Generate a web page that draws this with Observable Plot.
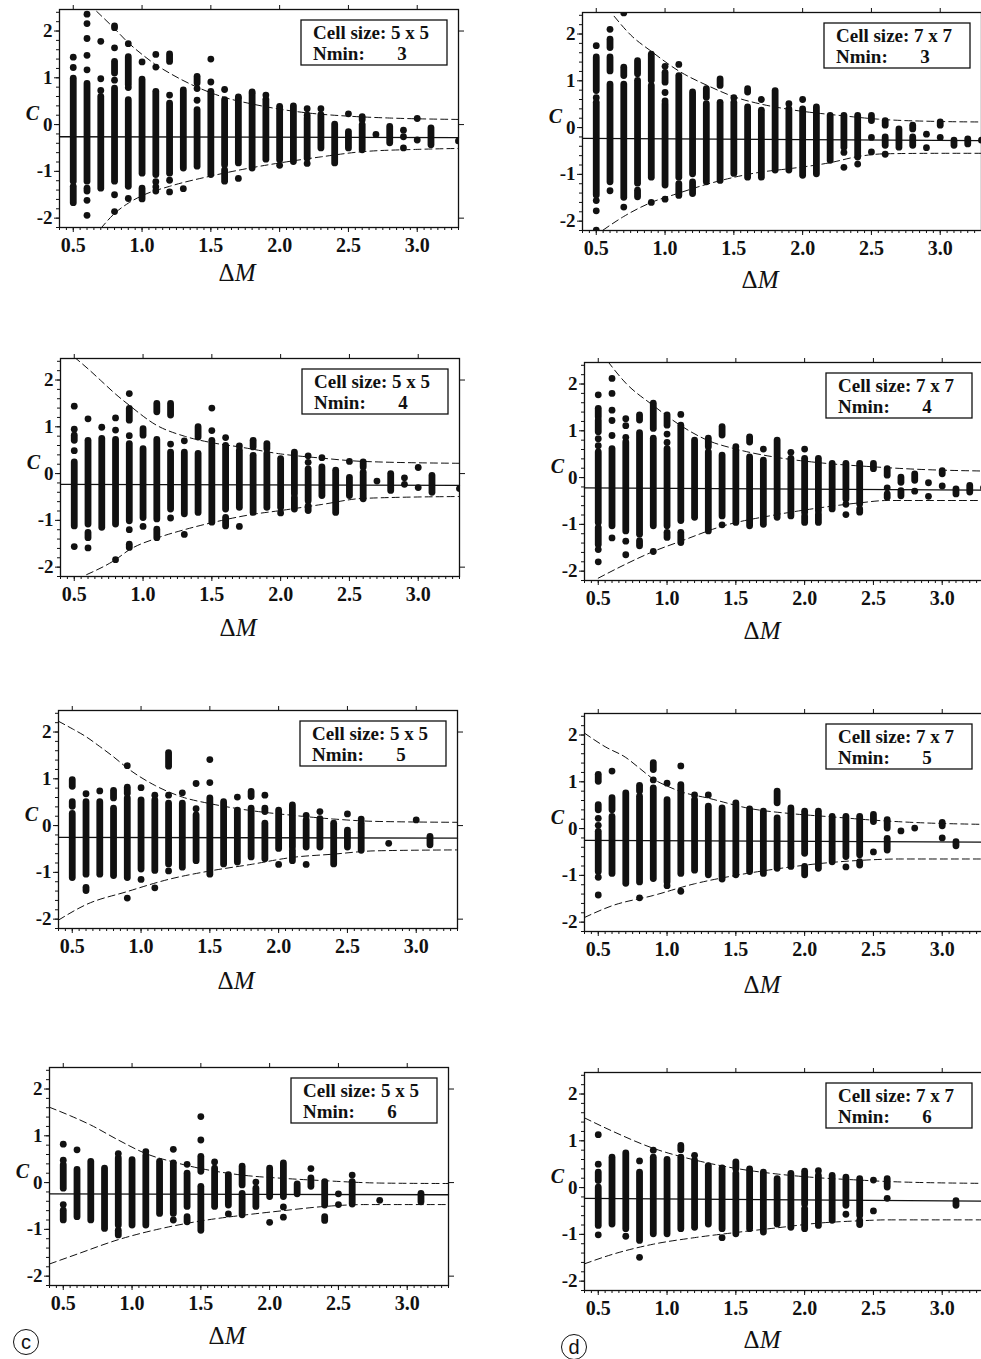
<!DOCTYPE html>
<html><head><meta charset="utf-8">
<script src="https://cdn.jsdelivr.net/npm/d3@7"></script>
<script src="https://cdn.jsdelivr.net/npm/@observablehq/plot@0.6"></script>
<style>
html,body{margin:0;padding:0;background:#fff;overflow:hidden;}
#page{position:relative;width:981px;height:1359px;overflow:hidden;background:#fff;}
.panel{position:absolute;}
</style></head><body><div id="page"></div>
<script>
// ---------- tick labels ----------
const xTicks = [0.5, 1.0, 1.5, 2.0, 2.5, 3.0];
const xTickLabels = ["0.5", "1.0", "1.5", "2.0", "2.5", "3.0"];
const yTicks = [-2, -1, 0, 1, 2];
const yTickLabels = ["-2", "-1", "0", "1", "2"];
const rightTicks = [-2, 0, 2];

// ---------- legend values ----------
const cellSizes = ["5 x 5", "7 x 7", "5 x 5", "7 x 7", "5 x 5", "7 x 7", "5 x 5", "7 x 7"];
const nmins = ["3", "3", "4", "4", "5", "5", "6", "6"];
const panelTags = [null, null, null, null, null, null, "c", "d"];

// ---------- panel 1 (5x5, Nmin 3) ----------
const p1Segs = [[0.5,-1.22,0.98],[0.5,-1.68,-1.33],[0.6,-1.22,0.87],[0.6,-1.43,-1.37],[0.7,-1.37,0.59],
  [0.8,2.06,2.1],[0.8,1.09,1.34],[0.8,-1.22,0.77],[0.9,0.84,1.44],[0.9,-1.33,0.52],[1.0,-1.05,0.96],[1.0,-1.6,-1.37],
  [1.1,-1.08,0.7],[1.2,1.34,1.5],[1.2,-1.05,0.45],[1.3,-0.94,0.73],[1.4,0.88,1.02],[1.4,-0.9,0.31],[1.5,-1.08,0.7],
  [1.6,-0.87,0.52],[1.6,-1.22,-0.98],[1.7,-0.83,0.55],[1.8,-0.94,0.66],[1.9,-0.75,0.53],[2.0,-0.76,0.38],[2.1,-0.8,0.39],
  [2.2,-0.73,0.13],[2.3,-0.51,0.2],[2.4,-0.83,0],[2.5,-0.51,-0.16],[2.6,0.09,0.16],[2.6,-0.55,-0.01],[2.8,-0.4,-0.05],[3.1,-0.44,-0.08]];
const p1Dots = [[0.5,1.44],[0.5,1.22],[0.6,2.36],[0.6,2.16],[0.6,1.84],[0.6,1.48],[0.6,1.17],[0.6,-1.62],[0.6,-1.94],
  [0.7,1.78],[0.7,0.98],[0.7,0.73],[0.8,1.64],[0.8,0.95],[0.8,-1.5],[0.8,-1.86],[0.9,1.73],[0.9,0.79],[0.9,-1.58],[1.0,1.34],
  [1.1,1.5],[1.1,1.23],[1.1,-1.22],[1.1,-1.33],[1.1,-1.42],[1.2,0.63],[1.2,-1.19],[1.2,-1.44],[1.3,-1.37],[1.4,0.77],[1.4,0.52],
  [1.5,1.4],[1.5,0.91],[1.6,0.75],[1.7,0.59],[1.7,-1.15],[1.8,0.7],[1.9,0.63],[2.0,-0.87],[2.2,0.34],[2.2,0.2],[2.2,-0.83],
  [2.3,0.34],[2.5,0.23],[2.7,-0.21],[2.9,-0.12],[2.9,-0.26],[2.9,-0.5],[3.0,0.13],[3.0,-0.33],[3.3,-0.35]];
const p1Mean = [[0.4,-0.26],[3.3,-0.28]];
const p1Upper = [[0.67,2.42],[0.8,2.05],[0.9,1.75],[1.0,1.5],[1.1,1.28],[1.2,1.1],[1.4,0.8],[1.6,0.58],[1.8,0.44],[2.0,0.33],[2.2,0.25],[2.5,0.18],[2.8,0.14],[3.3,0.11]];
const p1Lower = [[0.7,-2.22],[0.8,-1.9],[0.9,-1.68],[1.0,-1.52],[1.2,-1.32],[1.5,-1.1],[1.8,-0.92],[2.0,-0.82],[2.3,-0.69],[2.6,-0.58],[3.0,-0.53],[3.3,-0.51]];

// ---------- panel 2 (7x7, Nmin 3) ----------
const p2Segs = [[0.5,0.78,1.5],[0.5,-1.45,0.53],[0.6,1.7,1.88],[0.6,1.2,1.5],[0.6,-1.17,0.92],[0.7,1.1,1.28],[0.7,-1.5,0.92],
  [0.8,1.14,1.42],[0.8,-1.2,1.0],[0.8,-1.49,-1.35],[0.9,1.0,1.56],[0.9,-1.07,0.89],[1.0,0.96,1.17],[1.0,-1.24,0.5],
  [1.1,-1.07,1.1],[1.1,-1.46,-1.21],[1.2,-1.0,0.75],[1.2,-1.42,-1.17],[1.3,0.64,0.82],[1.3,-1.17,0.5],[1.4,0.89,1.03],[1.4,-1.14,0.53],
  [1.5,-0.99,0.53],[1.6,0.75,0.82],[1.6,-1.07,0.43],[1.7,-1.07,0.36],[1.8,-0.92,0.78],[1.9,-0.92,0.39],[2.0,-1.03,0.39],
  [2.1,-1.0,0.43],[2.2,-0.71,0.25],[2.3,-0.43,0.25],[2.4,-0.64,0.25],[2.5,0.14,0.25],[2.6,0.04,0.14],[2.6,-0.39,-0.21],
  [2.7,-0.43,-0.04],[2.8,-0.04,0.04],[2.8,-0.39,-0.21],[3.0,0.04,0.11],[3.1,-0.39,-0.28],[3.2,-0.36,-0.25]];
const p2Dots = [[0.5,1.75],[0.5,0.64],[0.5,-1.56],[0.5,-1.78],[0.5,-2.19],[0.6,2.1],[0.6,-1.35],[0.7,2.45],[0.7,-1.7],[0.9,-1.6],
  [1.0,1.31],[1.0,0.75],[1.0,0.57],[1.0,-1.53],[1.1,1.35],[1.5,0.64],[1.7,0.6],[1.9,0.51],[2.0,0.6],[2.3,-0.53],[2.3,-0.85],
  [2.4,-0.78],[2.5,-0.21],[2.5,-0.52],[2.6,-0.57],[2.9,-0.14],[2.9,-0.43],[3.0,-0.21],[3.3,-0.27]];
const p2Mean = [[0.4,-0.23],[3.3,-0.28]];
const p2Upper = [[0.63,2.38],[0.75,1.98],[0.9,1.63],[1.1,1.21],[1.33,0.87],[1.5,0.66],[1.7,0.5],[1.9,0.39],[2.3,0.25],[2.55,0.18],[3.0,0.13],[3.3,0.12]];
const p2Lower = [[0.55,-2.19],[0.7,-1.9],[0.9,-1.6],[1.08,-1.42],[1.33,-1.19],[1.7,-0.95],[1.9,-0.88],[2.2,-0.75],[2.4,-0.62],[2.6,-0.56],[3.0,-0.55],[3.3,-0.55]];

// ---------- panel 3 (5x5, Nmin 4) ----------
const p3Segs = [[0.5,0.7,0.81],[0.5,-1.13,0.24],[0.6,-1.09,0.7],[0.6,-1.38,-1.27],[0.7,-1.16,0.74],[0.8,-1.09,0.72],
  [0.9,1.13,1.38],[0.9,-1.02,0.63],[0.9,-1.59,-1.52],[1.0,0.81,0.95],[1.0,-0.95,0.52],[1.1,1.31,1.49],[1.1,-0.98,0.72],[1.1,-1.38,-1.2],
  [1.2,1.24,1.49],[1.2,-0.77,0.45],[1.3,-0.87,0.45],[1.4,0.77,0.99],[1.4,-0.84,0.42],[1.5,-1.05,0.7],[1.6,-0.77,0.59],[1.6,-1.13,-0.95],
  [1.7,-0.73,0.49],[1.8,0.56,0.7],[1.8,-0.84,0.38],[1.9,0.52,0.63],[1.9,-0.73,0.42],[2.0,-0.73,0.31],[2.1,-0.44,0.45],[2.1,-0.77,-0.52],
  [2.2,-0.59,0.09],[2.2,-0.8,-0.7],[2.3,-0.48,0.13],[2.4,-0.84,0.06],[2.5,-0.48,-0.09],[2.6,0.13,0.24],[2.6,-0.55,0.02],
  [2.8,-0.37,-0.01],[3.1,-0.41,-0.05]];
const p3Dots = [[0.5,1.44],[0.5,0.95],[0.5,0.49],[0.5,-1.56],[0.6,1.17],[0.6,-1.59],[0.7,0.99],[0.8,1.19],[0.8,0.93],[0.8,-1.84],
  [0.9,1.71],[0.9,0.81],[0.9,-1.2],[1.0,-1.13],[1.2,0.63],[1.2,-0.95],[1.3,0.7],[1.3,-1.3],[1.5,1.4],[1.5,0.92],[1.6,0.77],
  [1.7,0.59],[1.7,-1.13],[2.0,-0.84],[2.2,0.38],[2.2,0.24],[2.3,0.34],[2.5,0.26],[2.7,-0.16],[2.9,-0.09],[2.9,-0.23],
  [3.0,0.13],[3.0,-0.3],[3.3,-0.32]];
const p3Mean = [[0.4,-0.23],[3.3,-0.25]];
const p3Upper = [[0.5,2.49],[0.6,2.24],[0.7,1.97],[0.8,1.7],[0.9,1.46],[1.1,1.03],[1.3,0.8],[1.5,0.66],[1.7,0.57],[2.0,0.42],[2.3,0.33],[2.6,0.26],[3.3,0.22]];
const p3Lower = [[0.59,-2.16],[0.8,-1.84],[0.9,-1.63],[1.1,-1.38],[1.3,-1.2],[1.5,-1.05],[1.8,-0.87],[2.0,-0.79],[2.3,-0.66],[2.6,-0.53],[3.3,-0.49]];

// ---------- panel 4 (7x7, Nmin 4) ----------
const p4Segs = [[0.5,1.29,1.47],[0.5,0.97,1.22],[0.5,-0.97,0.54],[0.5,-1.44,-1.08],[0.6,-1.04,0.61],[0.7,-1.15,0.75],
  [0.8,1.22,1.33],[0.8,-1.22,0.95],[0.8,-1.47,-1.36],[0.9,1.04,1.58],[0.9,-1.04,0.83],[1.0,1.11,1.33],[1.0,-1.04,0.61],[1.0,-1.29,-1.18],
  [1.1,-0.93,1.11],[1.1,-1.4,-1.18],[1.2,-0.86,0.79],[1.3,0.65,0.83],[1.3,-1.15,0.54],[1.4,0.9,1.08],[1.4,-0.83,0.47],
  [1.5,-0.97,0.57],[1.6,0.75,0.86],[1.6,-1.04,0.43],[1.7,-1.01,0.36],[1.8,-0.86,0.79],[1.9,-0.83,0.4],[2.0,-0.75,0.4],[2.0,-0.97,-0.83],
  [2.1,-0.72,0.4],[2.1,-0.97,-0.79],[2.2,-0.68,0.29],[2.3,-0.47,0.29],[2.4,-0.57,0.29],[2.4,-0.75,-0.68],[2.5,0.18,0.29],
  [2.6,0.04,0.18],[2.6,-0.43,-0.36],[2.7,-0.11,0],[2.7,-0.4,-0.29],[2.8,-0.07,0.07],[3.0,0.07,0.14],[3.1,-0.36,-0.25],[3.2,-0.32,-0.18]];
const p4Dots = [[0.5,1.77],[0.5,0.83],[0.5,0.68],[0.5,-1.54],[0.5,-1.8],[0.6,2.12],[0.6,1.8],[0.6,1.44],[0.6,1.22],[0.6,0.9],[0.6,-1.29],
  [0.7,1.26],[0.7,1.11],[0.7,0.86],[0.7,-1.36],[0.7,-1.65],[0.9,-1.58],[1.0,0.93],[1.0,0.75],[1.1,1.35],[1.4,-1.01],[1.5,0.66],
  [1.7,0.61],[1.9,0.54],[2.0,0.61],[2.3,-0.57],[2.3,-0.79],[2.6,-0.22],[2.8,-0.29],[2.9,-0.11],[2.9,-0.4],[3.0,-0.18],[3.3,-0.22]];
const p4Mean = [[0.4,-0.22],[3.3,-0.27]];
const p4Upper = [[0.57,2.48],[0.7,2.02],[0.9,1.54],[1.1,1.11],[1.3,0.79],[1.5,0.61],[1.8,0.43],[2.1,0.32],[2.5,0.23],[2.8,0.18],[3.3,0.14]];
const p4Lower = [[0.5,-2.15],[0.7,-1.85],[0.9,-1.58],[1.1,-1.36],[1.4,-1.04],[1.8,-0.79],[2.1,-0.65],[2.4,-0.54],[2.6,-0.49],[3.3,-0.49]];

// ---------- panel 5 (5x5, Nmin 5) ----------
const p5Segs = [[0.5,0.83,0.97],[0.5,0.4,0.5],[0.5,-1.12,0.25],[0.6,-1.05,0.5],[0.6,-1.4,-1.33],[0.7,-1.05,0.5],[0.8,0.58,0.74],[0.8,-1.08,0.36],
  [0.9,0.68,0.81],[0.9,-1.12,0.58],[1.0,-0.94,0.54],[1.1,-0.97,0.54],[1.2,1.26,1.55],[1.2,-0.83,0.47],[1.3,-0.9,0.47],
  [1.4,-0.76,0.22],[1.5,-1.05,0.58],[1.6,-0.83,0.5],[1.7,-0.79,0.32],[1.8,0.61,0.72],[1.8,-0.68,0.36],[1.9,0.29,0.36],[1.9,-0.72,0.04],
  [2.0,-0.5,0.32],[2.1,-0.47,0.43],[2.1,-0.76,-0.54],[2.2,-0.47,0.11],[2.3,-0.47,0.14],[2.4,-0.83,0.04],[2.5,-0.47,-0.11],
  [2.6,-0.54,0.04],[3.1,-0.42,-0.24]];
const p5Dots = [[0.6,0.68],[0.7,0.74],[0.9,1.28],[0.9,-1.55],[1.0,0.81],[1.0,-1.15],[1.1,0.65],[1.1,-1.33],[1.2,0.65],[1.2,-0.97],
  [1.3,0.7],[1.4,0.9],[1.4,0.36],[1.5,1.41],[1.5,0.92],[1.7,0.61],[1.9,0.65],[2.0,-0.83],[2.2,0.22],[2.2,-0.83],[2.3,0.3],
  [2.5,0.25],[2.6,0.14],[2.8,-0.38],[3.0,0.12]];
const p5Mean = [[0.4,-0.25],[3.3,-0.27]];
const p5Upper = [[0.4,2.23],[0.5,2.07],[0.6,1.9],[0.7,1.69],[0.8,1.47],[0.9,1.23],[1.1,0.86],[1.3,0.61],[1.5,0.47],[1.8,0.32],[2.1,0.22],[2.4,0.14],[2.7,0.09],[3.3,0.07]];
const p5Lower = [[0.4,-2.02],[0.6,-1.69],[0.9,-1.41],[1.2,-1.15],[1.5,-0.97],[1.8,-0.83],[2.1,-0.68],[2.4,-0.61],[2.7,-0.54],[3.3,-0.52]];

// ---------- panel 6 (7x7, Nmin 5) ----------
const p6Segs = [[0.5,1.0,1.15],[0.5,0.39,0.5],[0.5,-0.93,-0.07],[0.6,0.39,0.65],[0.6,-0.97,0.25],[0.7,-1.18,0.75],
  [0.8,0.79,0.91],[0.8,-1.15,0.68],[0.9,1.25,1.4],[0.9,-1.08,0.86],[1.0,-1.15,0.61],[1.1,-0.97,0.93],[1.2,-0.9,0.61],
  [1.3,-1.0,0.47],[1.4,-1.04,0.43],[1.5,-1.0,0.54],[1.6,-0.93,0.41],[1.7,-0.97,0.36],[1.8,0.54,0.79],[1.8,-0.86,0.22],
  [1.9,-0.82,0.43],[2.0,-0.54,0.36],[2.0,-1.0,-0.82],[2.1,-0.86,0.36],[2.2,-0.72,0.25],[2.3,-0.61,0.25],[2.4,-0.57,0.25],
  [2.4,-0.79,-0.72],[2.5,0.14,0.29],[2.6,0,0.18],[2.6,-0.47,-0.22],[3.0,0.05,0.12],[3.1,-0.38,-0.29]];
const p6Dots = [[0.5,0.22],[0.5,0.07],[0.5,-1.04],[0.5,-1.42],[0.6,1.23],[0.8,-1.48],[0.9,1.04],[1.0,0.97],[1.0,-1.22],
  [1.1,1.34],[1.1,-1.34],[1.2,0.72],[1.3,0.72],[1.4,-1.08],[2.3,-0.82],[2.5,-0.5],[2.7,-0.05],[2.8,0.01],[3.0,-0.2]];
const p6Mean = [[0.4,-0.25],[3.3,-0.29]];
const p6Upper = [[0.4,2.04],[0.55,1.75],[0.7,1.52],[0.8,1.29],[0.9,1.06],[1.0,0.91],[1.1,0.79],[1.3,0.65],[1.6,0.43],[1.9,0.32],[2.2,0.25],[2.5,0.18],[2.8,0.13],[3.3,0.09]];
const p6Lower = [[0.4,-1.9],[0.6,-1.65],[0.9,-1.43],[1.2,-1.18],[1.5,-1.0],[1.8,-0.86],[2.1,-0.75],[2.4,-0.68],[2.7,-0.65],[3.3,-0.65]];

// ---------- panel 7 (5x5, Nmin 6) ----------
const p7Segs = [[0.5,-0.13,0.37],[0.5,-0.81,-0.6],[0.6,-0.74,0.27],[0.7,-0.81,0.44],[0.8,-0.99,0.3],[0.9,-0.92,0.52],[0.9,-1.13,-1.03],
  [1.0,-0.92,0.48],[1.1,-0.92,0.57],[1.2,-0.67,0.44],[1.3,-0.67,0.41],[1.4,-0.52,0.19],[1.4,-0.85,-0.74],[1.5,0.23,0.55],
  [1.5,-1.03,-0.09],[1.6,-0.52,0.3],[1.7,-0.49,0.16],[1.8,-0.06,0.34],[1.8,-0.7,-0.24],[1.9,-0.52,-0.13],[2.0,-0.31,0.3],
  [2.1,-0.31,0.41],[2.2,-0.25,-0.04],[2.3,-0.09,0.09],[2.4,-0.49,0.01],[2.4,-0.82,-0.74],[2.6,-0.47,0.01],[3.1,-0.42,-0.24]];
const p7Dots = [[0.5,0.82],[0.5,0.48],[0.5,-0.47],[0.6,0.7],[0.9,0.62],[1.1,0.66],[1.3,0.71],[1.3,-0.8],[1.4,0.39],[1.5,1.41],
  [1.5,0.91],[1.6,0.44],[1.7,-0.67],[1.9,0.01],[2.0,-0.85],[2.1,-0.52],[2.1,-0.74],[2.3,0.3],[2.5,-0.24],[2.5,-0.47],[2.6,0.16],[2.8,-0.38]];
const p7Mean = [[0.4,-0.24],[3.3,-0.26]];
const p7Upper = [[0.4,1.61],[0.55,1.43],[0.7,1.23],[0.9,0.91],[1.1,0.62],[1.3,0.44],[1.5,0.3],[1.8,0.16],[2.1,0.09],[2.4,0.04],[2.8,-0.01],[3.3,-0.02]];
const p7Lower = [[0.4,-1.74],[0.6,-1.53],[0.9,-1.22],[1.2,-0.99],[1.5,-0.82],[1.8,-0.7],[2.1,-0.6],[2.4,-0.51],[2.7,-0.47],[3.3,-0.47]];

// ---------- panel 8 (7x7, Nmin 6) ----------
const p8Segs = [[0.5,0.14,0.32],[0.5,-0.82,0],[0.6,-0.79,0.64],[0.7,-0.89,0.73],[0.8,-1.14,0.32],[0.9,-1.0,0.64],[1.0,-1.0,0.59],
  [1.1,0.8,0.89],[1.1,-0.89,0.64],[1.2,-0.86,0.57],[1.3,-0.79,0.46],[1.4,-0.89,0.41],[1.5,0.39,0.54],[1.5,-1.0,0.29],
  [1.6,-0.89,0.39],[1.7,-0.96,0.32],[1.8,-0.79,0.18],[1.9,-0.86,0.29],[2.0,-0.36,0.34],[2.0,-0.89,-0.46],[2.1,-0.82,0.25],
  [2.2,-0.71,0.25],[2.3,-0.39,0.21],[2.4,-0.61,0.18],[2.4,-0.8,-0.71],[2.6,0,0.18],[3.1,-0.39,-0.29]];
const p8Dots = [[0.5,1.13],[0.5,0.5],[0.5,-1.01],[0.7,-1.04],[0.8,0.57],[0.8,-1.49],[0.9,0.8],[1.2,0.69],[1.4,-1.07],
  [2.1,0.36],[2.3,-0.57],[2.5,0.16],[2.5,-0.5],[2.6,-0.23]];
const p8Mean = [[0.4,-0.23],[3.3,-0.29]];
const p8Upper = [[0.4,1.49],[0.6,1.21],[0.9,0.84],[1.2,0.59],[1.5,0.41],[1.8,0.29],[2.1,0.21],[2.4,0.16],[2.6,0.13],[3.3,0.09]];
const p8Lower = [[0.4,-1.63],[0.6,-1.43],[0.9,-1.21],[1.2,-1.07],[1.5,-0.96],[1.8,-0.86],[2.1,-0.76],[2.4,-0.71],[2.6,-0.69],[3.3,-0.69]];

const panels = [
  {segs: p1Segs, dots: p1Dots, mean: p1Mean, upper: p1Upper, lower: p1Lower},
  {segs: p2Segs, dots: p2Dots, mean: p2Mean, upper: p2Upper, lower: p2Lower},
  {segs: p3Segs, dots: p3Dots, mean: p3Mean, upper: p3Upper, lower: p3Lower},
  {segs: p4Segs, dots: p4Dots, mean: p4Mean, upper: p4Upper, lower: p4Lower},
  {segs: p5Segs, dots: p5Dots, mean: p5Mean, upper: p5Upper, lower: p5Lower},
  {segs: p6Segs, dots: p6Dots, mean: p6Mean, upper: p6Upper, lower: p6Lower},
  {segs: p7Segs, dots: p7Dots, mean: p7Mean, upper: p7Upper, lower: p7Lower},
  {segs: p8Segs, dots: p8Dots, mean: p8Mean, upper: p8Upper, lower: p8Lower}
];

// ---------- layout (page position of each plot frame) ----------
const frameLeft = [59, 582, 60, 583.5, 58, 583.5, 49, 583.5];
const frameTop = [9, 12, 358, 362, 710, 713, 1067, 1072];
const labelDy = [54, 58, 60, 59, 61, 62, 59, 58];

const FW = 399, FH = 218, ML = 60, MT = 11, MR = 16, MB = 84;
const INK = "#111";
const SERIF = "'Liberation Serif', 'Times New Roman', serif";
const minorX = d3.range(8, 67).map(i => +(i * 0.05).toFixed(2));
const minorY = d3.range(-11, 13).map(i => +(i * 0.2).toFixed(1));
const page = document.getElementById("page");

panels.forEach((p, i) => {
  const chart = Plot.plot({
    width: ML + FW + MR, height: MT + FH + MB,
    marginLeft: ML, marginTop: MT, marginRight: MR, marginBottom: MB,
    x: {domain: [0.4, 3.3]},
    y: {domain: [-2.2, 2.46]},
    style: {background: "none", fontFamily: SERIF, color: INK, overflow: "visible"},
    marks: [
      Plot.axisX({ticks: minorX, tickSize: 3, tickFormat: () => "", label: null}),
      Plot.axisX({ticks: xTicks, tickSize: 5, tickPadding: 5, tickFormat: d => xTickLabels[xTicks.indexOf(d)],
        fontSize: 20, fontWeight: "bold", label: null}),
      Plot.axisX({anchor: "top", ticks: xTicks, tickSize: 5, tickFormat: () => "", label: null}),
      Plot.axisY({ticks: minorY, tickSize: 3, tickFormat: () => "", label: null}),
      Plot.axisY({ticks: yTicks, tickSize: 5, tickPadding: 2, tickFormat: d => yTickLabels[yTicks.indexOf(d)],
        fontSize: 19, fontWeight: "bold", label: null}),
      Plot.axisY({anchor: "right", ticks: rightTicks, tickSize: 5, tickFormat: () => "", label: null}),
      Plot.ruleX(p.segs, {x: d => d[0], y1: d => d[1], y2: d => d[2], stroke: INK, strokeWidth: 6.8, strokeLinecap: "round", clip: true}),
      Plot.dot(p.dots, {x: d => d[0], y: d => d[1], r: 3.4, fill: INK, stroke: "none", clip: true}),
      Plot.line(p.mean, {x: d => d[0], y: d => d[1], stroke: INK, strokeWidth: 1.3}),
      Plot.line(p.upper, {x: d => d[0], y: d => d[1], curve: "monotone-x", stroke: INK, strokeWidth: 1, strokeDasharray: "7,4", clip: true}),
      Plot.line(p.lower, {x: d => d[0], y: d => d[1], curve: "monotone-x", stroke: INK, strokeWidth: 1, strokeDasharray: "7,4", clip: true}),
      Plot.frame({stroke: INK, strokeWidth: 1.3}),
      Plot.text(["C"], {frameAnchor: "left", y: 0.24, dx: -27, fontSize: 20, fontStyle: "italic", fontWeight: "bold", textAnchor: "middle", fill: INK})
    ]
  });
  chart.classList.add("panel");
  chart.style.left = (frameLeft[i] - ML) + "px";
  chart.style.top = (frameTop[i] - MT) + "px";
  const svg = d3.select(chart);
  svg.selectAll("text").attr("font-family", SERIF);

  // legend box
  const bx = ML + 242, by = MT + 11;
  const g = svg.append("g").attr("text-anchor", "start");
  g.append("rect").attr("x", bx).attr("y", by).attr("width", 146).attr("height", 45)
    .attr("fill", "white").attr("stroke", INK).attr("stroke-width", 1.3);
  g.append("text").attr("x", bx + 12).attr("y", by + 19).attr("text-anchor", "start").attr("font-family", SERIF).attr("font-weight", "bold")
    .attr("font-size", 19).attr("fill", INK).text("Cell size: " + cellSizes[i]);
  g.append("text").attr("x", bx + 12).attr("y", by + 40).attr("text-anchor", "start").attr("font-family", SERIF).attr("font-weight", "bold")
    .attr("font-size", 19).attr("fill", INK).text("Nmin:");
  g.append("text").attr("x", bx + 101).attr("y", by + 40).attr("text-anchor", "middle").attr("font-family", SERIF)
    .attr("font-weight", "bold").attr("font-size", 19).attr("fill", INK).text(nmins[i]);

  // x-axis title ΔM
  const t = svg.append("text").attr("x", ML + 178).attr("y", MT + FH + labelDy[i]).attr("text-anchor", "middle")
    .attr("font-family", SERIF).attr("font-size", 25).attr("fill", INK);
  t.append("tspan").text("Δ");
  t.append("tspan").attr("font-style", "italic").text("M");

  page.appendChild(chart);
});

// circled panel tags
const overlay = d3.select(page).append("svg").attr("width", 981).attr("height", 1359)
  .style("position", "absolute").style("left", "0px").style("top", "0px").style("pointer-events", "none");
const tagPos = [null, null, null, null, null, null, [26, 1342, 12.5], [574, 1347, 12.5]];
panelTags.forEach((tag, i) => {
  if (!tag) return;
  const [cx, cy, r] = tagPos[i];
  overlay.append("circle").attr("cx", cx).attr("cy", cy).attr("r", r).attr("fill", "none").attr("stroke", INK).attr("stroke-width", 1);
  overlay.append("text").attr("x", cx).attr("y", cy + 7).attr("text-anchor", "middle")
    .attr("font-family", "'Liberation Sans', Arial, sans-serif").attr("font-size", 20).attr("fill", INK).text(tag);
});
</script>
</body></html>
